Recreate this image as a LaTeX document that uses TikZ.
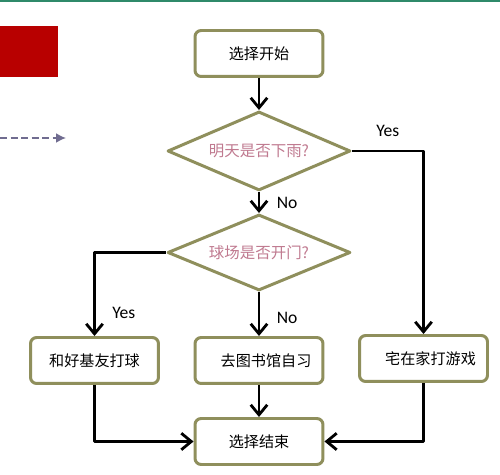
\documentclass[tikz,border=0pt]{standalone}
\usepackage{fontspec}
\newfontfamily\cjk{Noto Sans CJK SC}
\newfontfamily\latinsans{Carlito}
\usetikzlibrary{shapes.geometric,arrows.meta}
\definecolor{vien}{HTML}{8F8F5C}
\definecolor{chuhong}{HTML}{C07A90}
\definecolor{docao}{HTML}{B80000}
\definecolor{xanhla}{HTML}{2F8A6A}
\definecolor{timnhat}{HTML}{706C90}
\begin{document}
\begin{tikzpicture}[x=0.02cm,y=-0.02cm,line join=round,
	hop/.style={draw=vien,line width=1.7pt,rounded corners=3.5pt,fill=white,
		minimum width=2.56cm,minimum height=0.92cm,inner sep=0pt,
		font=\cjk\fontsize{8.6}{10}\selectfont},
	thoi/.style={draw=vien,line width=1.7pt,shape=diamond,aspect=2.3,inner sep=0pt,
		minimum width=3.66cm,minimum height=1.58cm,text=chuhong,
		font=\cjk\fontsize{8.8}{10}\selectfont},
	muiten/.style={line width=1.6pt,-{Straight Barb[length=2mm,width=3.3mm]}},
	nhan/.style={font=\latinsans\fontsize{10}{11}\selectfont}]
	%==Khung hình và phần trang trí bên trái
	\useasboundingbox (0,0) rectangle (500,475);
	\fill[white] (0,0) rectangle (500,475);
	\fill[xanhla] (0,0) rectangle (500,2);
	\fill[docao] (0,26) rectangle (58,77);
	\coordinate (L0) at (0,138);
	\coordinate (L1) at (66,138);
	\draw[timnhat,line width=1pt,dash pattern=on 4pt off 2pt,-{Latex[length=2mm,width=2mm]}] (L0)--(L1);
	%==Các bước
	\node[hop] (BD) at (259,53.5) {选择开始};
	\node[thoi] (Mua) at (259,151) {明天是否下雨?};
	\node[thoi,minimum height=1.52cm] (San) at (259,252.5) {球场是否开门?};
	\node[hop] (Bong) at (94.5,360.5) {和好基友打球};
	\node[hop] (ThuVien) at (259,360.5) {\hspace{8pt}去图书馆自习};
	\node[hop] (Game) at (423.5,358.5) {\hspace{8pt}宅在家打游戏};
	\node[hop] (KT) at (259,441.5) {选择结束};
	%==============
	\draw[muiten] (BD)--(Mua);
	\draw[muiten] (Mua)--node[nhan,right=6pt]{No}(San);
	\draw[muiten] (Mua.east)-|node[nhan,pos=0.25,above=4pt]{Yes}(Game);
	\draw[muiten] (San.west)-|node[nhan,pos=0.86,right=6pt]{Yes}(Bong);
	\draw[muiten] (San)--node[nhan,pos=0.6,right=6pt]{No}(ThuVien);
	\draw[muiten] (ThuVien)--(KT);
	\draw[muiten] (Bong)|-(KT);
	\draw[muiten] (Game)|-(KT);
\end{tikzpicture}
\end{document}
